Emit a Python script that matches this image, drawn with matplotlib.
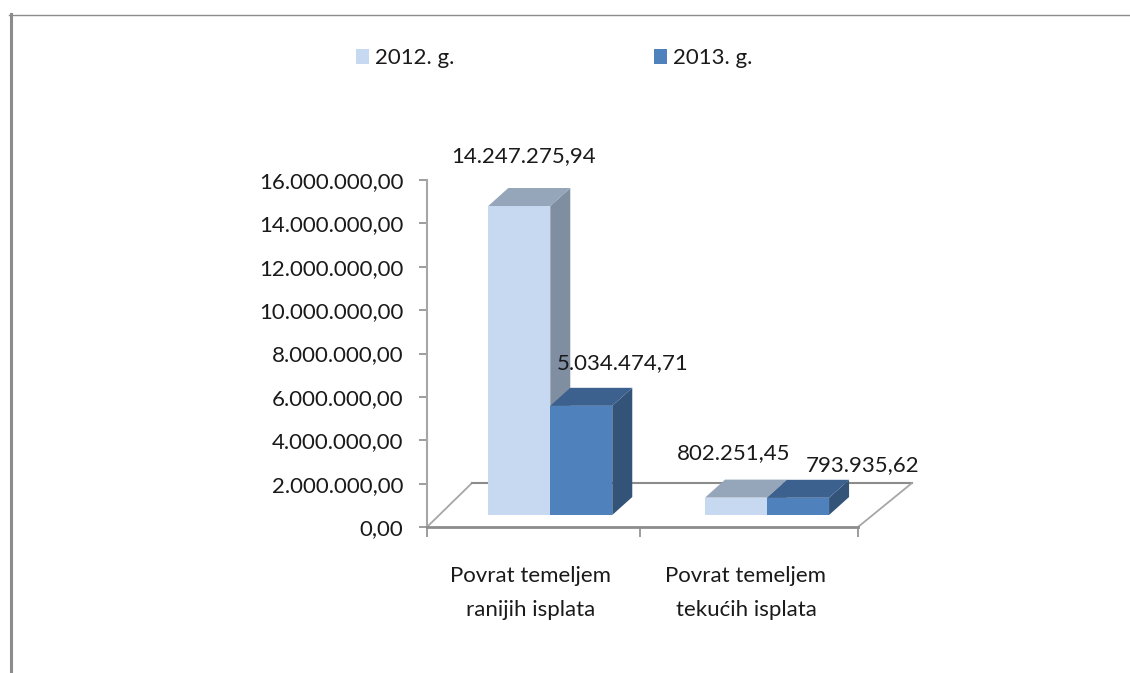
#!/usr/bin/env python3

import matplotlib
matplotlib.use('Agg')
import matplotlib.pyplot as plt
from matplotlib.lines import Line2D
from matplotlib.patches import Polygon
from matplotlib.transforms import ScaledTranslation

plt.rcParams['font.family'] = ['Lato', 'DejaVu Sans']

categories = ['Povrat temeljem\nranijih isplata', 'Povrat temeljem\ntekućih isplata']
series_names = ['2012. g.', '2013. g.']
values_2012 = [14247275.94, 802251.45]
values_2013 = [5034474.71, 793935.62]
labels_2012 = ['14.247.275,94', '802.251,45']
labels_2013 = ['5.034.474,71', '793.935,62']
y_ticks = [0, 2000000, 4000000, 6000000, 8000000, 10000000, 12000000, 14000000, 16000000]
y_labels = ['0,00', '2.000.000,00', '4.000.000,00', '6.000.000,00', '8.000.000,00',
            '10.000.000,00', '12.000.000,00', '14.000.000,00', '16.000.000,00']

W, H = 1130, 673
AX_L, AX_B, AX_R, AX_T = 427, 527, 858, 180  # pixels, from top left
X_PX = (AX_R - AX_L) / 2
Y_PX = (AX_B - AX_T) / 16000000

BAR_W = 62 / X_PX
BAR_BASE = 12 / Y_PX
DEPTH_X = 20 / X_PX
DEPTH_Y = 18 / Y_PX
GREY = '#8c8c8c'
TEXT = '#1a1a1a'
FONT = 16

fig = plt.figure(figsize=(W / 100, H / 100), dpi=100, facecolor='white')
ax = fig.add_axes([AX_L / W, 1 - AX_B / H, (AX_R - AX_L) / W, (AX_B - AX_T) / H])
ax.set_xlim(-0.5, 1.5)
ax.set_ylim(0, 16000000)


def bar3d(x, value, front, top, side):
    y0 = BAR_BASE
    y1 = BAR_BASE + value
    left = x - BAR_W / 2
    right = x + BAR_W / 2
    bars = ax.bar(x, value, BAR_W, bottom=y0, color=front, zorder=3)
    ax.add_patch(Polygon([(left, y1), (right, y1),
                          (right + DEPTH_X, y1 + DEPTH_Y), (left + DEPTH_X, y1 + DEPTH_Y)],
                         facecolor=top, edgecolor='none', zorder=3))
    ax.add_patch(Polygon([(right, y0), (right, y1), (right + DEPTH_X, y1 + DEPTH_Y),
                          (right + DEPTH_X, y0 + DEPTH_Y)],
                         facecolor=side, edgecolor='none', zorder=2.5))
    return bars


# floor of the 3d box
floor_y = 44 / Y_PX
floor_l = -0.5 + 45 / X_PX
floor_r = 1.5 + 54 / X_PX
ax.plot([-0.5, floor_l], [0, floor_y], color='#a6a6a6', lw=1.3, clip_on=False, zorder=1)
ax.plot([floor_l, floor_r], [floor_y, floor_y], color=GREY, lw=1.5, clip_on=False, zorder=1)
ax.plot([1.5, floor_r], [0, floor_y], color='#a6a6a6', lw=1.3, clip_on=False, zorder=1)

centers = [0.072, 1.078]
handles = []
label_offsets = [(4, 50), (41, 43), (-2, 45), (65, 33)]
for i in range(2):
    c = centers[i]
    b1 = bar3d(c - BAR_W / 2, values_2012[i], '#c6d9f1', '#95a6bb', '#7f8ea1')
    b2 = bar3d(c + BAR_W / 2, values_2013[i], '#4f81bd', '#3c618f', '#335378')
    if i == 0:
        handles = [b1, b2]
    for x, v, s, off in [(c - BAR_W / 2, values_2012[i], labels_2012[i], label_offsets[2 * i]),
                         (c + BAR_W / 2, values_2013[i], labels_2013[i], label_offsets[2 * i + 1])]:
        ax.annotate(s, (x, BAR_BASE + v), xytext=(off[0] * 0.72, off[1] * 0.72),
                    textcoords='offset points', ha='center', va='center',
                    fontsize=FONT, color=TEXT, zorder=5, annotation_clip=False)

for name in ['top', 'right']:
    ax.spines[name].set_visible(False)
ax.spines['left'].set_color('#a6a6a6')
ax.spines['left'].set_linewidth(1.5)
ax.spines['bottom'].set_color(GREY)
ax.spines['bottom'].set_linewidth(2)

ax.set_yticks(y_ticks)
ax.set_yticklabels(y_labels, fontsize=FONT, color=TEXT)
# labels sit a little below their ticks in the original
shift = ScaledTranslation(0, -3.5 / 100, fig.dpi_scale_trans)
for lab in ax.get_yticklabels():
    lab.set_transform(lab.get_transform() + shift)
ax.tick_params(axis='y', length=6, width=1.2, color=GREY, pad=11)
ax.set_xticks([-0.5, 0.49, 1.5])
ax.set_xticklabels(['', '', ''])
ax.tick_params(axis='x', length=7, width=1.2, color=GREY)
ax.set_xticks([-0.02, 0.98], minor=True)
ax.set_xticklabels(categories, minor=True, fontsize=FONT, color=TEXT, linespacing=1.9)
ax.tick_params(axis='x', which='minor', length=0, pad=28)

leg = fig.legend([handles[0][0], handles[1][0]], series_names, ncols=2, frameon=False,
                 loc='center left', bbox_to_anchor=(336 / W, 1 - 58 / H), fontsize=FONT,
                 handlelength=0.6, handleheight=0.68, handletextpad=0.27, columnspacing=8.96,
                 labelcolor=TEXT)

# page frame of the pasted picture
fig.add_artist(Line2D([10.5 / W, 10.5 / W], [0, 1 - 14 / H], color=GREY, lw=2.2))
fig.add_artist(Line2D([9 / W, 1], [1 - 14.5 / H, 1 - 14.5 / H], color=GREY, lw=1))

fig.savefig('out.png', dpi=100)
